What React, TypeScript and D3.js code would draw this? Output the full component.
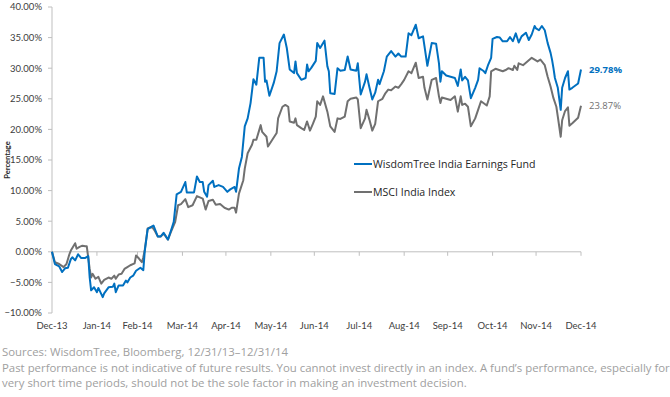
import React from "react";
import * as d3 from "d3";

const width = 670;
const height = 397;

const margin = { top: 7, right: 89, bottom: 84, left: 52 };
// plot box: x 52..581, y 7..313

// days since 12/31/13
const fundDays = [0, 2, 5, 7, 9, 11, 13, 14, 16, 18, 20, 23, 25, 26, 27, 29, 31, 32, 35, 36, 39, 42, 43, 44, 46, 49, 51, 52, 54, 56, 58, 61, 63, 64, 66, 70, 73, 75, 77, 80, 82, 84, 86, 89, 92, 93, 95, 98, 100, 102, 104, 105, 107, 108, 111, 112, 115, 118, 121, 123, 126, 127, 129, 131, 133, 135, 137, 139, 141, 143, 146, 147, 148, 150, 153, 155, 157, 160, 162, 164, 167, 168, 169, 172, 175, 176, 177, 179, 182, 183, 185, 188, 190, 191, 192, 195, 197, 199, 202, 204, 206, 210, 211, 213, 216, 217, 219, 221, 223, 225, 226, 229, 231, 234, 237, 239, 241, 244, 246, 248, 251, 253, 256, 257, 259, 262, 265, 267, 268, 269, 272, 275, 278, 280, 282, 283, 285, 287, 289, 292, 294, 295, 298, 299, 301, 303, 304, 307, 309, 311, 314, 316, 318, 320, 322, 324, 327, 329, 331, 333, 334, 336, 338, 340, 342, 344, 345, 346, 347, 349, 351, 352, 354, 356, 357, 359, 363, 365];
const fundValues = [0, -2.0, -2.4, -3.3, -2.7, -2.6, -1.2, -0.9, -1.4, -0.4, -1.0, -1.0, -0.7, -4.2, -6.3, -5.8, -6.6, -5.9, -7.4, -6.8, -5.8, -5.7, -5.2, -6.6, -5.5, -5.5, -4.7, -5.0, -4.2, -3.9, -3.1, -2.6, -3.0, 0.1, 3.7, 4.3, 2.5, 2.5, 3.1, 2.0, 3.4, 4.9, 9.4, 9.8, 11.4, 9.7, 9.7, 9.7, 12.3, 11.4, 11.4, 9.8, 9.0, 10.9, 11.6, 10.6, 10.9, 10.6, 9.8, 10.2, 10.6, 9.8, 13.6, 15.5, 20.5, 21.8, 24.3, 28.2, 27.3, 31.7, 31.7, 27.8, 28.0, 25.5, 27.6, 29.5, 34.1, 35.5, 33.3, 29.8, 29.2, 31.1, 29.2, 28.1, 28.4, 30.6, 29.5, 30.1, 31.2, 34.1, 33.3, 34.5, 30.3, 29.5, 25.9, 25.8, 30.0, 29.6, 29.7, 31.9, 29.8, 29.6, 30.8, 25.7, 27.8, 29.0, 26.9, 24.9, 26.0, 28.1, 27.4, 29.5, 31.9, 32.8, 31.9, 32.4, 31.9, 31.9, 35.7, 35.4, 37.1, 34.9, 35.2, 33.6, 30.4, 34.1, 34.0, 30.8, 27.8, 29.5, 28.8, 28.6, 28.4, 27.1, 29.8, 28.0, 28.6, 28.0, 25.1, 26.8, 28.1, 30.0, 29.5, 29.2, 30.6, 31.7, 34.8, 35.1, 35.0, 34.4, 34.4, 35.1, 34.4, 35.7, 34.2, 35.2, 35.8, 34.6, 35.5, 36.9, 36.5, 36.2, 36.9, 36.2, 34.1, 32.5, 31.4, 30.0, 28.4, 26.8, 23.2, 26.8, 28.4, 29.5, 26.5, 26.8, 27.5, 29.78];

const indexDays = [0, 2, 5, 8, 10, 12, 13, 16, 17, 19, 21, 23, 24, 26, 27, 28, 30, 32, 34, 36, 39, 41, 43, 44, 46, 48, 50, 52, 54, 57, 58, 60, 62, 63, 64, 66, 69, 71, 73, 75, 77, 80, 82, 85, 87, 89, 92, 94, 97, 100, 102, 104, 106, 108, 111, 113, 116, 119, 122, 124, 126, 127, 129, 132, 133, 135, 138, 139, 141, 144, 145, 148, 149, 152, 155, 156, 159, 161, 163, 164, 167, 168, 169, 172, 174, 176, 178, 180, 182, 183, 185, 187, 190, 192, 195, 197, 199, 202, 204, 206, 210, 211, 213, 216, 217, 219, 221, 223, 225, 228, 230, 232, 234, 237, 239, 241, 243, 246, 248, 251, 253, 256, 257, 259, 262, 265, 267, 268, 269, 272, 275, 278, 280, 282, 283, 285, 287, 289, 292, 294, 296, 300, 302, 303, 306, 311, 313, 315, 318, 319, 321, 322, 325, 328, 331, 333, 335, 337, 340, 342, 344, 346, 348, 349, 351, 352, 354, 356, 357, 359, 363, 365];
const indexValues = [0, -1.7, -2.0, -2.5, -2.0, -0.4, 0.2, 1.4, 0.5, 0.8, 1.0, 0.9, 0.9, -2.8, -4.2, -3.6, -4.4, -4.1, -5.2, -4.6, -4.2, -4.4, -3.9, -4.4, -3.7, -3.6, -2.8, -2.5, -2.2, -1.9, -0.6, -1.1, -1.7, -0.9, 0.3, 3.8, 4.1, 3.4, 2.5, 2.5, 3.0, 2.0, 3.2, 4.9, 7.6, 7.8, 8.6, 7.3, 7.6, 9.1, 8.9, 8.7, 6.9, 8.3, 8.5, 7.7, 7.8, 7.2, 6.9, 7.2, 7.2, 6.4, 9.5, 11.7, 13.6, 16.1, 17.5, 18.3, 18.3, 20.7, 19.6, 18.8, 17.2, 18.3, 19.4, 21.8, 23.7, 24.0, 23.7, 21.3, 21.1, 21.8, 20.7, 20.2, 19.9, 21.3, 19.8, 20.9, 22.1, 24.6, 24.0, 25.4, 22.9, 20.5, 19.6, 21.8, 21.7, 22.1, 24.6, 25.0, 25.2, 24.9, 20.2, 21.8, 23.2, 21.6, 19.8, 20.9, 24.6, 25.0, 25.9, 26.5, 26.4, 27.0, 26.8, 27.4, 28.1, 29.5, 29.2, 30.9, 28.4, 28.6, 26.8, 24.9, 28.1, 28.4, 25.4, 24.3, 25.2, 25.0, 24.8, 25.4, 22.9, 25.4, 24.0, 24.2, 23.7, 20.5, 21.8, 23.2, 24.6, 23.9, 25.4, 29.5, 29.9, 29.5, 29.7, 30.0, 29.7, 30.4, 29.7, 30.8, 30.5, 31.1, 31.7, 31.4, 31.1, 31.4, 30.5, 28.6, 27.0, 25.1, 23.7, 22.1, 18.8, 21.5, 23.0, 23.6, 20.6, 21.0, 21.9, 23.87];

const monthTicks = ["2013-12-31", "2014-01-31", "2014-02-28", "2014-03-31", "2014-04-30", "2014-05-31", "2014-06-30", "2014-07-31", "2014-08-31", "2014-09-30", "2014-10-31", "2014-11-30", "2014-12-31"];
const yTicks = [-10, -5, 0, 5, 10, 15, 20, 25, 30, 35, 40];

const seriesNames = ["WisdomTree India Earnings Fund", "MSCI India Index"];
const seriesColors = ["#0070c0", "#707070"];
const endLabels = ["29.78%", "23.87%"];

const notes = [
  "Sources: WisdomTree, Bloomberg, 12/31/13\u201312/31/14",
  "Past performance is not indicative of future results. You cannot invest directly in an index. A fund\u2019s performance, especially for",
  "very short time periods, should not be the sole factor in making an investment decision.",
];

const parse = d3.timeParse("%Y-%m-%d");
const start = parse("2013-12-31") as Date;
const fmtMonth = d3.timeFormat("%b-%y");
const fmtPct = (v: number) => d3.format(".2f")(v) + "%";

type Pt = { date: Date; value: number };

const toSeries = (days: number[], values: number[]): Pt[] =>
  days.map((d, i) => ({ date: d3.timeDay.offset(start, d), value: values[i] }));

export default function App() {
  const innerWidth = width - margin.left - margin.right;
  const innerHeight = height - margin.top - margin.bottom;

  const ticks = monthTicks.map((s) => parse(s) as Date);

  const xScale = d3
    .scaleTime()
    .domain([ticks[0], ticks[ticks.length - 1]])
    .range([0, innerWidth]);

  const yScale = d3.scaleLinear().domain([-10, 40]).range([innerHeight, 0]);

  const series = [toSeries(fundDays, fundValues), toSeries(indexDays, indexValues)];

  const lineGen = d3
    .line<Pt>()
    .x((d) => xScale(d.date))
    .y((d) => yScale(d.value));

  const axisColor = "#bfbfbf";
  const tickFont = "Lato, 'Liberation Sans', sans-serif";
  const textFont = "'Open Sans', 'Noto Sans', sans-serif";

  return (
    <div style={{ position: "absolute", left: 0, top: 0 }}>
      <svg width={width} height={height} style={{ display: "block", background: "#fff" }}>
        <g transform={`translate(${margin.left},${margin.top})`}>
          {/* y axis */}
          <line x1={0} x2={0} y1={0} y2={innerHeight} stroke={axisColor} />
          {yTicks.map((t) => (
            <g key={t} transform={`translate(0,${yScale(t)})`}>
              <line x1={-4} x2={0} stroke={axisColor} />
              <text x={-10} dy="0.35em" textAnchor="end" fontSize={9.5} fill="#404040" fontFamily={tickFont}>
                {fmtPct(t)}
              </text>
            </g>
          ))}

          {/* x axis at zero */}
          <line x1={0} x2={innerWidth} y1={yScale(0)} y2={yScale(0)} stroke={axisColor} />
          {ticks.map((t) => (
            <g key={t.getTime()} transform={`translate(${xScale(t)},0)`}>
              <line y1={yScale(0)} y2={yScale(0) + 4} stroke={axisColor} />
              <text y={innerHeight + 16} textAnchor="middle" fontSize={9.5} fill="#404040" fontFamily={tickFont}>
                {fmtMonth(t)}
              </text>
            </g>
          ))}

          {/* lines, index drawn first */}
          {[1, 0].map((i) => (
            <path
              key={i}
              d={lineGen(series[i]) || ""}
              fill="none"
              stroke={seriesColors[i]}
              strokeWidth={2}
              strokeLinejoin="round"
            />
          ))}

          {/* end labels */}
          {series.map((s, i) => {
            const last = s[s.length - 1];
            return (
              <text
                key={i}
                x={xScale(last.date) + 8}
                y={yScale(last.value)}
                dy="0.35em"
                fontSize={9.5}
                fontWeight={i === 0 ? "bold" : "normal"}
                fill={seriesColors[i]}
                fontFamily={textFont}
              >
                {endLabels[i]}
              </text>
            );
          })}

          {/* legend */}
          {seriesNames.map((name, i) => (
            <g key={name} transform={`translate(302,${157 + i * 28})`}>
              <line x1={0} x2={18} stroke={seriesColors[i]} strokeWidth={2} />
              <text x={19} dy="0.35em" fontSize={10.6} fill="#262626" fontFamily={textFont}>
                {name}
              </text>
            </g>
          ))}
        </g>

        {/* y axis title */}
        <text
          transform="translate(10,160) rotate(-90)"
          textAnchor="middle"
          fontSize={7.5}
          fontWeight="bold"
          fill="#262626"
          fontFamily={tickFont}
        >
          Percentage
        </text>

        {/* footnotes */}
        {notes.map((n, i) => (
          <text key={i} x={2} y={356 + i * 15.5} fontSize={11.4} fill="#a0a0a0" fontFamily={textFont}>
            {n}
          </text>
        ))}
      </svg>
    </div>
  );
}
